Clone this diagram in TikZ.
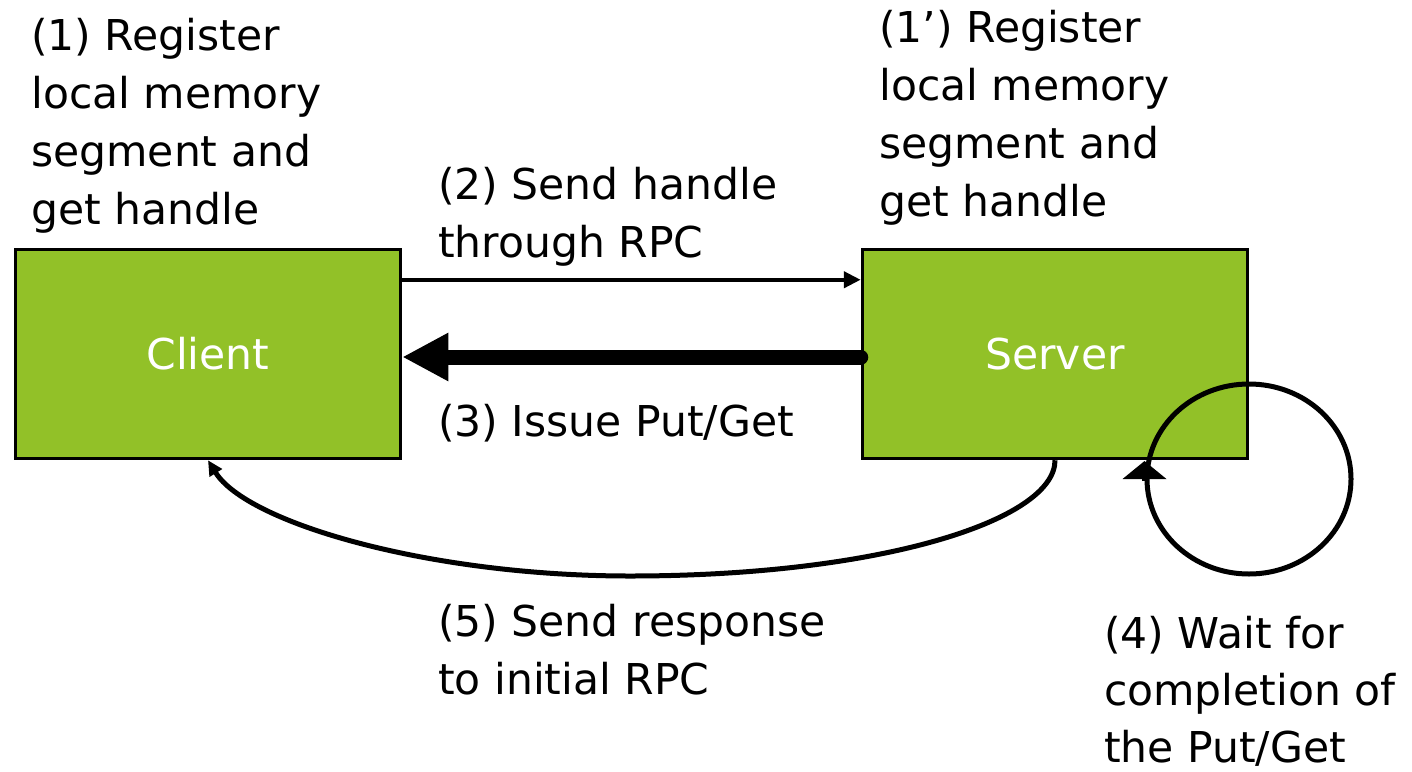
\documentclass[tikz,border=0pt]{standalone}
\usepackage{fontspec}
\setmainfont{DejaVu Sans}
\usetikzlibrary{arrows.meta,shapes.geometric}
\definecolor{boxgreen}{RGB}{146,193,40}
\begin{document}
\begin{tikzpicture}[x=1pt,y=-1pt,
  lbl/.style={anchor=north west, inner sep=0pt, align=left,
              font=\fontsize{42.5}{58}\selectfont},
  box/.style={draw=black, line width=3.5pt, fill=boxgreen,
              minimum width=385pt, minimum height=209pt, inner sep=0pt,
              text=white, font=\fontsize{42.5}{52}\selectfont},
  conn/.style={draw=black, line width=4.5pt},
  bigconn/.style={draw=black, line width=15pt},
]
\useasboundingbox (0,0) rectangle (1412,771);

% the two endpoints
\node[box] (client) at (208,354) {Client};
\node[box] (server) at (1055,354) {Server};

% step labels
\node[lbl] (reg1)  at (31,18)   {(1) Register\\local memory\\segment and\\get handle};
\node[lbl] (reg1b) at (879,10)  {(1’) Register\\local memory\\segment and\\get handle};
\node[lbl] (send2) at (438,167) {(2) Send handle\\through RPC};
\node[lbl] (issue3) at (438,404) {(3) Issue Put/Get};
\node[lbl] (resp5) at (438,604) {(5) Send response\\to initial RPC};
\node[lbl, font=\fontsize{42.5}{57}\selectfont] (wait4) at (1104,616)
  {(4) Wait for\\completion of\\the Put/Get};

% (2) handle sent to the server
\draw[conn, -{Triangle[length=17pt,width=16pt]}]
  ([yshift=-32pt]client.north east) -- ([yshift=-32pt]server.north west);

% (3) put/get issued from the server
\draw[bigconn, line cap=round, -{Triangle[length=46pt,width=45pt]}]
  ([yshift=-3pt]server.west) -- ([yshift=-3pt]client.east);

% (5) response back to the client
\coordinate (low) at (630,576);
\draw[conn, line width=5pt, -{Triangle[length=15pt,width=14pt]}]
  (server.south) .. controls +(0,60) and +(250,0) .. (low)
  .. controls +(-200,0) and +(39,63) .. (client.south);

% (4) waiting loop on the server
\node[draw=black, line width=5pt, ellipse, minimum width=204pt,
      minimum height=190pt, inner sep=0pt] (loop4) at (1249,479) {};
\draw[line width=5pt, -{Triangle[length=18pt,width=43pt]}]
  ([yshift=-2pt]loop4.west) -- ([yshift=18pt]loop4.west);
\end{tikzpicture}
\end{document}
